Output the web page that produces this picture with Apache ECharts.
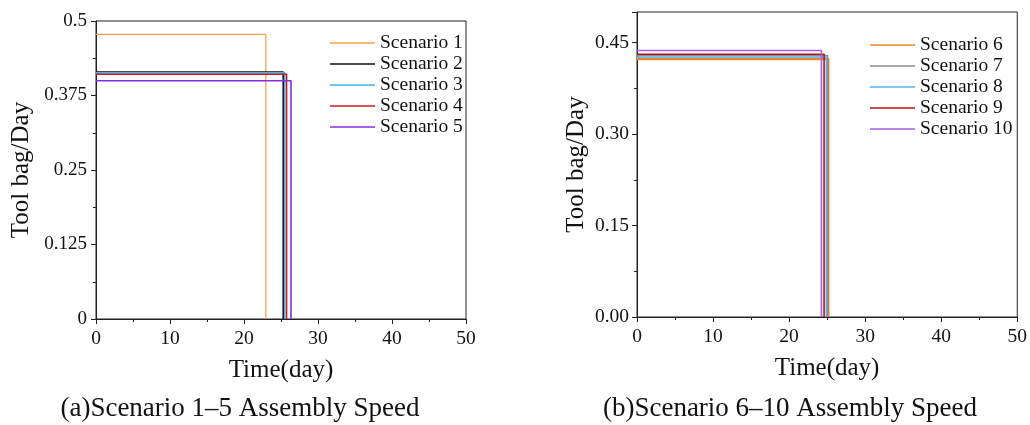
<!DOCTYPE html>
<html><head><meta charset="utf-8">
<script src="https://cdn.jsdelivr.net/npm/echarts@6/dist/echarts.min.js"></script>
<style>html,body{margin:0;padding:0;background:#fff}#c{width:1030px;height:425px}</style>
</head><body><div id="c"></div>
<script>
// Left panel: Scenario 1-5
const namesA = ['Scenario 1','Scenario 2','Scenario 3','Scenario 4','Scenario 5'];
const levelsA = [0.4775, 0.4144, 0.413, 0.4106, 0.3998];
const endDaysA = [22.95, 25.3, 25.5, 25.75, 26.35];
const colorsA = ['#F2A54A','#111111','#3FB4E8','#D0191F','#8A2BE2'];
// Right panel: Scenario 6-10
const namesB = ['Scenario 6','Scenario 7','Scenario 8','Scenario 9','Scenario 10'];
const levelsB = [0.423, 0.4286, 0.4263, 0.4307, 0.4368];
const endDaysB = [25.15, 25.05, 24.9, 24.6, 24.25];
const colorsB = ['#E8852A','#8C8C8C','#4DB8F0','#B81414','#A65FE6'];
const yTicksA = [0, 0.125, 0.25, 0.375, 0.5];
const yTicksB = [0, 0.15, 0.30, 0.45];

const font = '"Liberation Serif","Times New Roman",serif';
function stepData(level, end){ return [[0, level],[end, level],[end, 0]]; }

const series = [];
namesA.forEach((n,i)=>series.push({name:n,type:'line',xAxisIndex:0,yAxisIndex:0,symbol:'none',
  data:stepData(levelsA[i],endDaysA[i]),lineStyle:{width:i===0?1.3:1.6,color:colorsA[i]},itemStyle:{color:colorsA[i]}}));
namesB.forEach((n,i)=>series.push({name:n,type:'line',xAxisIndex:1,yAxisIndex:1,symbol:'none',
  data:stepData(levelsB[i],endDaysB[i]),lineStyle:{width:i===0?2.4:1.6,color:colorsB[i]},itemStyle:{color:colorsB[i]}}));

function xAxis(gi){
  return {type:'value',gridIndex:gi,min:0,max:50,interval:10,
    name:'Time(day)',nameLocation:'middle',nameGap:39,
    nameTextStyle:{fontFamily:font,fontSize:25,color:'#111'},
    axisLine:{onZero:false,lineStyle:{color:'#222',width:1}},
    axisTick:{inside:false,length:5,lineStyle:{color:'#222'}},
    minorTick:{show:true,splitNumber:2,length:3,lineStyle:{color:'#222'}},
    axisLabel:{fontFamily:font,fontSize:19.5,color:'#111',margin:10},
    splitLine:{show:false}};
}
function yAxis(gi, ticks, interval, max, gap, fmt, fs, margin){
  return {type:'value',gridIndex:gi,min:0,max:max,interval:interval,
     name:'Tool bag/Day',nameLocation:'middle',nameGap:gap,
     nameTextStyle:{fontFamily:font,fontSize:25,color:'#111'},
     axisLine:{show:true,lineStyle:{color:'#222'}},
     axisTick:{show:true,length:5,lineStyle:{color:'#222'}},
     minorTick:{show:true,splitNumber:2,length:3,lineStyle:{color:'#222'}},
     axisLabel:{fontFamily:font,fontSize:fs,color:'#111',margin:margin,
       formatter:v=>{const t=ticks.find(x=>Math.abs(x-v)<1e-9);return t===undefined?'':fmt(t);}},
     splitLine:{show:false}};
}
const option = {
  animation:false,
  grid:[
    {left:96,right:564,top:21,bottom:106,show:true,borderColor:'#222',borderWidth:1},
    {left:637,right:12,top:12,bottom:108,show:true,borderColor:'#222',borderWidth:1}
  ],
  xAxis:[xAxis(0),xAxis(1)],
  yAxis:[
    yAxis(0, yTicksA, 0.125, 0.5, 62, t=>String(t), 19, 9),
    yAxis(1, yTicksB, 0.15, 0.5, 48, t=>t.toFixed(2), 19.5, 8)
  ],
  legend:[
    {data:namesA,orient:'vertical',left:325,top:28,itemWidth:45,itemHeight:1.6,itemGap:1,icon:'rect',
     textStyle:{fontFamily:font,fontSize:19.5,color:'#111'}},
    {data:namesB,orient:'vertical',left:865,top:30,itemWidth:45,itemHeight:1.6,itemGap:1,icon:'rect',
     textStyle:{fontFamily:font,fontSize:19.5,color:'#111'}}
  ],
  graphic:[
    {type:'text',style:{text:'(a)Scenario 1\u20135 Assembly Speed',fontFamily:font,fontSize:27,fill:'#111',x:240,y:409,textAlign:'center',textVerticalAlign:'middle'}},
    {type:'text',style:{text:'(b)Scenario 6\u201310 Assembly Speed',fontFamily:font,fontSize:27,fill:'#111',x:790,y:409,textAlign:'center',textVerticalAlign:'middle'}}
  ],
  series:series
};
const chart = echarts.init(document.getElementById('c'),null,{renderer:'canvas'});
chart.setOption(option);
</script></body></html>
